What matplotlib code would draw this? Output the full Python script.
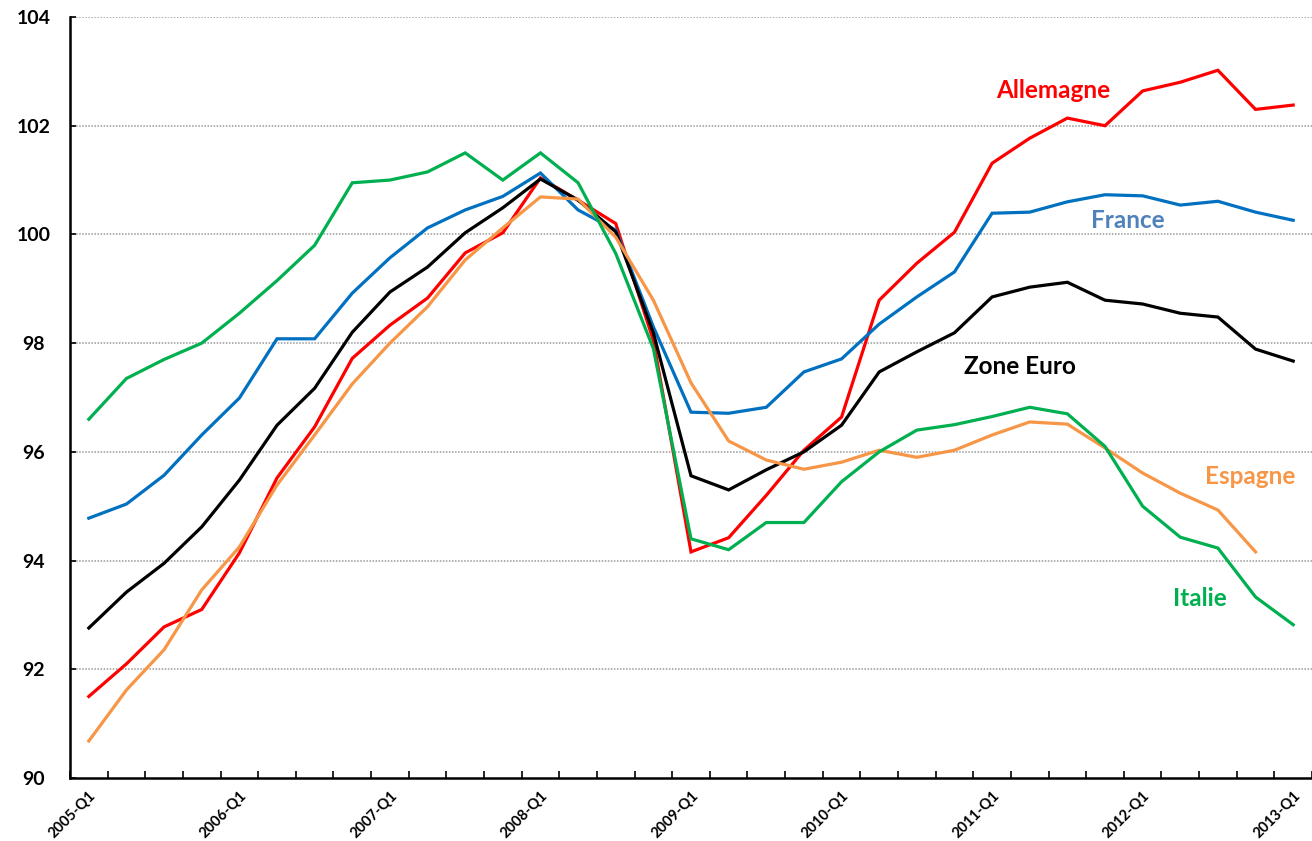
import matplotlib
matplotlib.use("Agg")
import matplotlib.pyplot as plt
import numpy as np

quarters = [f"{y}-Q{q}" for y in range(2005, 2014) for q in range(1, 5)][:33]

allemagne = [91.5, 92.1, 92.78, 93.1, 94.14, 95.52, 96.46, 97.72, 98.33, 98.83,
             99.66, 100.03, 101.04, 100.63, 100.2, 98.05, 94.16, 94.42, 95.2, 96.03,
             96.64, 98.79, 99.47, 100.04, 101.31, 101.77, 102.14, 102.0, 102.64, 102.8,
             103.02, 102.3, 102.38]
france = [94.78, 95.04, 95.57, 96.31, 96.99, 98.08, 98.08, 98.92, 99.57, 100.12,
          100.45, 100.7, 101.13, 100.45, 100.08, 98.3, 96.73, 96.71, 96.82, 97.47,
          97.71, 98.35, 98.85, 99.31, 100.39, 100.41, 100.6, 100.73, 100.71, 100.54,
          100.61, 100.41, 100.26]
zone_euro = [92.76, 93.42, 93.95, 94.62, 95.48, 96.49, 97.17, 98.2, 98.94, 99.4,
             100.03, 100.49, 101.02, 100.63, 100.05, 98.19, 95.56, 95.3, 95.67, 96.0,
             96.49, 97.47, 97.84, 98.19, 98.85, 99.03, 99.12, 98.79, 98.72, 98.55,
             98.48, 97.89, 97.67]
espagne = [90.68, 91.62, 92.36, 93.46, 94.25, 95.39, 96.31, 97.25, 98.0, 98.67,
           99.53, 100.12, 100.69, 100.65, 99.95, 98.79, 97.27, 96.2, 95.85, 95.68,
           95.81, 96.03, 95.9, 96.03, 96.31, 96.55, 96.51, 96.07, 95.61, 95.24,
           94.93, 94.16, np.nan]
italie = [96.6, 97.35, 97.7, 98.0, 98.55, 99.15, 99.8, 100.95, 101.0, 101.15,
          101.5, 101.0, 101.5, 100.95, 99.65, 97.9, 94.4, 94.2, 94.7, 94.7,
          95.45, 96.0, 96.4, 96.5, 96.65, 96.82, 96.7, 96.1, 95.0, 94.43,
          94.23, 93.33, 92.82]

series = [
    ("Allemagne", allemagne, "#FF0000", "#FF0000", (1053, 91)),
    ("France", france, "#0070C0", "#4F81BD", (1128, 221)),
    ("Zone Euro", zone_euro, "#000000", "#000000", (1020, 366)),
    ("Espagne", espagne, "#F79646", "#F79646", (1250, 477)),
    ("Italie", italie, "#00B050", "#00B050", (1200, 598)),
]

W, H = 1312, 841
fig = plt.figure(figsize=(W / 100, H / 100), dpi=100)
ax = fig.add_axes([70 / W, 1 - 778 / H, (1312 - 70) / W, (778 - 17) / H])

x = np.arange(len(quarters))
for name, vals, col, tcol, pos in series:
    ax.plot(x, vals, color=col, lw=2.3, solid_joinstyle="miter")

ax.set_xlim(-0.5, 32.1)
ax.set_ylim(90, 104)
ax.set_yticks(np.arange(90, 105, 2))
ax.set_yticklabels([str(v) for v in range(90, 105, 2)], fontsize=14, fontweight="bold",
                   family=["Lato", "DejaVu Sans"])
for yv in range(92, 105, 2):
    ax.axhline(yv, color="#999999", lw=1.1, ls=(0, (1, 1)), zorder=0)

ax.set_xticks(x[::4])
ax.set_xticklabels([quarters[i] for i in x[::4]], rotation=45, ha="right",
                   rotation_mode="anchor", fontsize=10.5, fontweight="bold",
                   family=["Lato", "DejaVu Sans"])
ax.set_xticks(np.arange(-0.5, 33, 1), minor=True)
ax.tick_params(axis="x", which="major", length=0, pad=8)
ax.tick_params(axis="x", which="minor", length=5, direction="in", width=1.2)
ax.tick_params(axis="y", length=4, direction="in", width=1.2, pad=26)
for lab in ax.get_yticklabels():
    lab.set_horizontalalignment("center")

for s in ["top", "right"]:
    ax.spines[s].set_visible(False)
ax.spines["left"].set_linewidth(1.8)
ax.spines["bottom"].set_linewidth(1.8)

for name, vals, col, tcol, pos in series:
    fig.text(pos[0] / W, 1 - pos[1] / H, name, color=tcol, fontsize=17.5, fontweight="bold",
             ha="center", va="center", family=["Lato", "DejaVu Sans"])

fig.savefig("out.png", dpi=100)
